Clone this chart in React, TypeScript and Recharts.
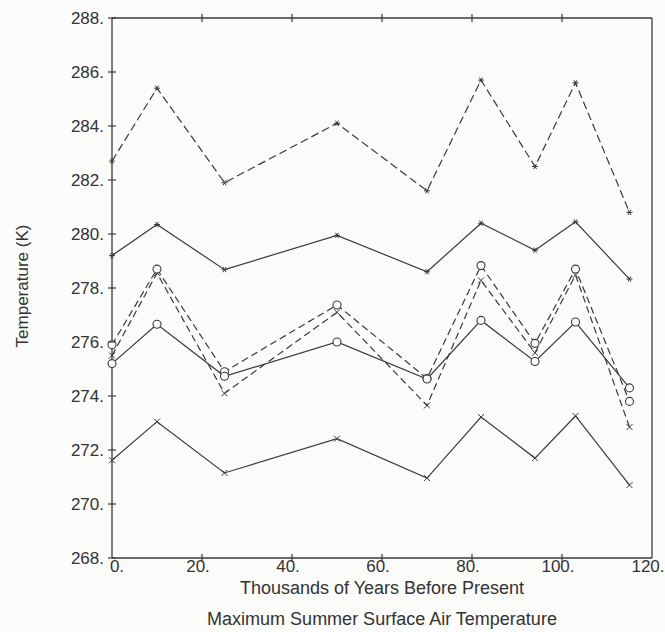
import React from "react";
import { LineChart, Line, XAxis, YAxis } from "recharts";

const YEARS = [0, 10, 25, 50, 70, 82, 94, 103, 115];
const X_TICKS = [0, 20, 40, 60, 80, 100, 120];
const Y_TICKS = [268, 270, 272, 274, 276, 278, 280, 282, 284, 286, 288];

// dashed, asterisk markers (top)
const dashedStar = [282.7, 285.4, 281.9, 284.1, 281.6, 285.7, 282.5, 285.6, 280.8];
// solid, asterisk markers
const solidStar = [279.2, 280.35, 278.68, 279.95, 278.6, 280.4, 279.4, 280.45, 278.33];
// dashed, circle markers
const dashedCircle = [275.9, 278.7, 274.9, 277.37, 274.65, 278.83, 275.95, 278.7, 273.8];
// dashed, x markers
const dashedCross = [275.5, 278.55, 274.1, 277.1, 273.65, 278.28, 275.6, 278.48, 272.85];
// solid, circle markers
const solidCircle = [275.2, 276.66, 274.73, 276.0, 274.63, 276.8, 275.28, 276.74, 274.3];
// solid, x markers
const solidCross = [271.62, 273.05, 271.15, 272.42, 270.96, 273.22, 271.7, 273.26, 270.7];

const data = YEARS.map((yr, i) => ({
  yr,
  a: dashedStar[i],
  b: solidStar[i],
  e: dashedCircle[i],
  f: dashedCross[i],
  c: solidCircle[i],
  d: solidCross[i],
}));

const INK = "#3a3a3a";
const TEXT = "#333";
const BG = "#fbfbf9";
const FONT = '"Liberation Sans", Arial, Helvetica, sans-serif';

const StarDot = (props: any) => {
  const { cx, cy, index } = props;
  if (cx == null || cy == null) return <g key={index} />;
  const r = 3;
  const d = [0, 60, 120]
    .map((a) => {
      const rad = (a * Math.PI) / 180;
      const dx = r * Math.cos(rad);
      const dy = r * Math.sin(rad);
      return `M${cx - dx},${cy - dy}L${cx + dx},${cy + dy}`;
    })
    .join("");
  return <path key={index} d={d} stroke={INK} strokeWidth={1} fill="none" />;
};

const CrossDot = (props: any) => {
  const { cx, cy, index } = props;
  if (cx == null || cy == null) return <g key={index} />;
  const r = 3;
  return (
    <path
      key={index}
      d={`M${cx - r},${cy - r}L${cx + r},${cy + r}M${cx - r},${cy + r}L${cx + r},${cy - r}`}
      stroke={INK}
      strokeWidth={1}
      fill="none"
    />
  );
};

const CircleDot = (props: any) => {
  const { cx, cy, index } = props;
  if (cx == null || cy == null) return <g key={index} />;
  return <circle key={index} cx={cx} cy={cy} r={4} stroke={INK} strokeWidth={1.1} fill={BG} />;
};

const LeftTick = (props: any) => {
  const { x, y, payload } = props;
  return (
    <g>
      <line x1={x - 4} x2={x + 4} y1={y} y2={y} stroke={INK} strokeWidth={1.2} />
      <text x={x - 8} y={y} dy="0.36em" textAnchor="end" fill={TEXT} fontSize={17} fontFamily={FONT}>
        {`${payload.value}.`}
      </text>
    </g>
  );
};

const RightTick = (props: any) => {
  const { x, y, payload } = props;
  if (payload.value === 268 || payload.value === 288) return <g />;
  return <line x1={x - 4} x2={x + 4} y1={y} y2={y} stroke={INK} strokeWidth={1.2} />;
};

const BottomTick = (props: any) => {
  const { x, y, payload } = props;
  const shift = payload.value === 0 ? 5 : -4;
  return (
    <g>
      {payload.value !== 0 && payload.value !== 120 ? (
        <line x1={x} x2={x} y1={y - 4} y2={y + 4} stroke={INK} strokeWidth={1.2} />
      ) : null}
      <text x={x + shift} y={y} dy={14} textAnchor="middle" fill={TEXT} fontSize={17} fontFamily={FONT}>
        {`${payload.value}.`}
      </text>
    </g>
  );
};

const TopTick = (props: any) => {
  const { x, y, payload } = props;
  if (payload.value === 0 || payload.value === 120) return <g />;
  return <line x1={x} x2={x} y1={y - 4} y2={y + 4} stroke={INK} strokeWidth={1.2} />;
};

export default function App() {
  const common = { isAnimationActive: false, strokeWidth: 1.2, stroke: INK, activeDot: false } as any;
  return (
    <div
      style={{
        position: "absolute",
        left: 0,
        top: 0,
        width: 665,
        height: 632,
        background: BG,
        fontFamily: FONT,
      }}
    >
      <LineChart width={665} height={632} data={data} margin={{ top: 17, right: 12, bottom: 73, left: 111 }}>
        <XAxis
          xAxisId="bottom"
          dataKey="yr"
          type="number"
          domain={[0, 120]}
          ticks={X_TICKS}
          height={1}
          tickSize={0}
          tickMargin={0}
          tick={<BottomTick />}
          axisLine={{ stroke: INK, strokeWidth: 1.3 }}
          tickLine={false}
          interval={0}
        />
        <XAxis
          xAxisId="top"
          orientation="top"
          dataKey="yr"
          type="number"
          domain={[0, 120]}
          ticks={X_TICKS}
          height={1}
          tickSize={0}
          tickMargin={0}
          tick={<TopTick />}
          axisLine={{ stroke: INK, strokeWidth: 1.3 }}
          tickLine={false}
          interval={0}
        />
        <YAxis
          yAxisId="left"
          type="number"
          domain={[268, 288]}
          ticks={Y_TICKS}
          width={1}
          tickSize={0}
          tickMargin={0}
          tick={<LeftTick />}
          axisLine={{ stroke: INK, strokeWidth: 1.3 }}
          tickLine={false}
          interval={0}
        />
        <YAxis
          yAxisId="right"
          orientation="right"
          type="number"
          domain={[268, 288]}
          ticks={Y_TICKS}
          width={1}
          tickSize={0}
          tickMargin={0}
          tick={<RightTick />}
          axisLine={{ stroke: INK, strokeWidth: 1.3 }}
          tickLine={false}
          interval={0}
        />
        <Line {...common} xAxisId="bottom" yAxisId="left" dataKey="a" strokeDasharray="8 4" dot={<StarDot />} />
        <Line {...common} xAxisId="bottom" yAxisId="left" dataKey="b" dot={<StarDot />} />
        <Line {...common} xAxisId="bottom" yAxisId="left" dataKey="f" strokeDasharray="7 4" dot={<CrossDot />} />
        <Line {...common} xAxisId="bottom" yAxisId="left" dataKey="e" strokeDasharray="7 4" dot={<CircleDot />} />
        <Line {...common} xAxisId="bottom" yAxisId="left" dataKey="d" dot={<CrossDot />} />
        <Line {...common} xAxisId="bottom" yAxisId="left" dataKey="c" dot={<CircleDot />} />
      </LineChart>
      <div
        style={{
          position: "absolute",
          left: 182,
          width: 400,
          top: 578,
          textAlign: "center",
          fontSize: 18,
          color: TEXT,
          lineHeight: "20px",
        }}
      >
        Thousands of Years Before Present
      </div>
      <div
        style={{
          position: "absolute",
          left: 182,
          width: 400,
          top: 609,
          textAlign: "center",
          fontSize: 18,
          color: TEXT,
          lineHeight: "20px",
        }}
      >
        Maximum Summer Surface Air Temperature
      </div>
      <div
        style={{
          position: "absolute",
          left: 23 - 100,
          width: 200,
          top: 286 - 10,
          height: 20,
          lineHeight: "20px",
          textAlign: "center",
          fontSize: 17,
          color: TEXT,
          transform: "rotate(-90deg)",
        }}
      >
        Temperature (K)
      </div>
    </div>
  );
}
